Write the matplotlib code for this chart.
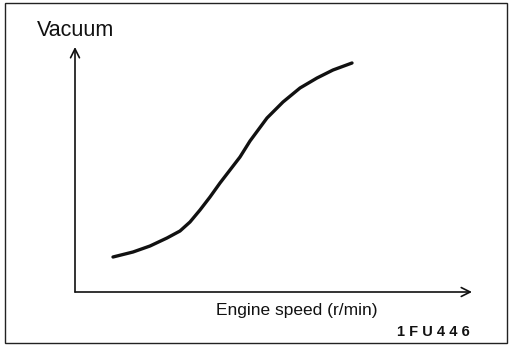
#!/usr/bin/env python3

# Vacuum versus engine speed characteristic, drawn as a boxed schematic.

import matplotlib
matplotlib.use('Agg')
import matplotlib.pyplot
from matplotlib.patches import Rectangle

# Curve read in axis units (origin at the corner of the two axes).
ENGINE_SPEED = [38, 58, 75, 92, 105, 115, 125, 135, 145, 155, 165, 175, 192, 208, 225, 242, 258, 277]
VACUUM = [35, 40, 46, 54, 61, 70, 82, 95, 109, 122, 135, 151, 174, 190, 204, 214, 222, 229]

X_LABEL = 'Engine speed (r/min)'
Y_LABEL = 'Vacuum'
FIGURE_CODE = '1 F U 4 4 6'

WIDTH, HEIGHT = 512, 347
INK = '#111111'
FONT = 'Liberation Sans'

def main():
    figure = matplotlib.pyplot.figure(figsize = (WIDTH / 100, HEIGHT / 100), dpi = 100)

    # Frame around the whole diagram.
    figure.patches.append(Rectangle((5 / WIDTH, 1 - 343 / HEIGHT), 502 / WIDTH, 340 / HEIGHT,
        transform = figure.transFigure, fill = False, edgecolor = '#222222', linewidth = 1.0))

    # Axes: origin at pixel (75, 292), x arrow to 472, y arrow to 47.
    left, bottom = 75 / WIDTH, 1 - 292 / HEIGHT
    axis = figure.add_axes([left, bottom, 397 / WIDTH, 245 / HEIGHT])
    axis.set_xlim(0, 397)
    axis.set_ylim(0, 245)
    axis.axis('off')

    arrow = dict(arrowstyle = '->', color = INK, linewidth = 1.2, mutation_scale = 16,
        shrinkA = 0, shrinkB = 0)
    axis.annotate('', xy = (1, 0), xytext = (0, 0), xycoords = 'axes fraction', arrowprops = arrow)
    axis.annotate('', xy = (0, 1), xytext = (0, 0), xycoords = 'axes fraction', arrowprops = arrow)

    axis.plot(ENGINE_SPEED, VACUUM, color = INK, linewidth = 2.4, solid_capstyle = 'round')

    figure.text(76 / WIDTH, 1 - 31 / HEIGHT, Y_LABEL, fontfamily = FONT, fontsize = 15.5,
        color = INK, ha = 'center', va = 'center')
    figure.text(297 / WIDTH, 1 - 311 / HEIGHT, X_LABEL, fontfamily = FONT, fontsize = 12.5,
        color = INK, ha = 'center', va = 'center')
    figure.text(470 / WIDTH, 1 - 332 / HEIGHT, FIGURE_CODE, fontfamily = FONT, fontsize = 10.5,
        fontweight = 'bold', color = INK, ha = 'right', va = 'center')

    figure.savefig('out.png', dpi = 100, facecolor = 'white')

if (__name__ == '__main__'):
    main()
